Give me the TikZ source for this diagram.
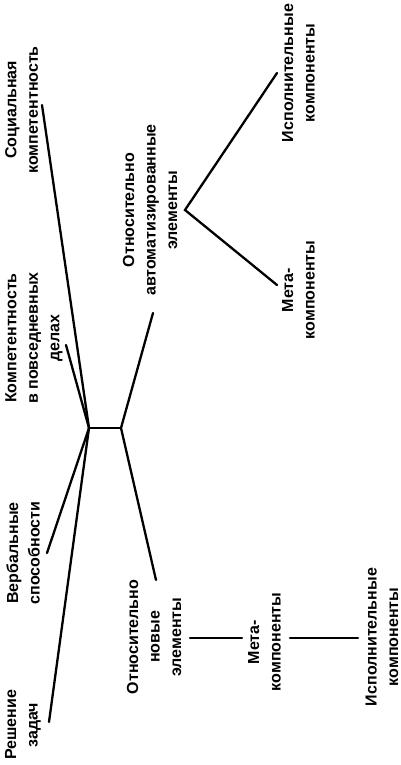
\documentclass[tikz,border=0pt]{standalone}
\usepackage{fontspec}
\setmainfont{Liberation Sans}
\begin{document}
\begin{tikzpicture}[x=1pt,y=-1pt,
  lbl/.style={rotate=90, align=center, font=\fontsize{16}{21.5}\selectfont\bfseries, inner sep=0pt},
  conn/.style={line width=2.3pt, line cap=round}]
\useasboundingbox (0,0) rectangle (400,765);
% labels
\node[lbl] (zadach) at (23,725) {Решение\\задач};
\node[lbl] (verb) at (23,553) {Вербальные\\способности};
\node[lbl] (povs) at (34,338) {Компетентность\\в повседневных\\делах};
\node[lbl] (soc) at (21.5,110) {Социальная\\компетентность};
\node[lbl] (avto) at (150,210) {Относительно\\автоматизированные\\элементы};
\node[lbl] (novye) at (154,637) {Относительно\\новые\\элементы};
\node[lbl] (metaA) at (298.5,290) {Мета-\\компоненты};
\node[lbl] (ispA) at (298.5,73) {Исполнительные\\компоненты};
\node[lbl] (metaN) at (264.5,642) {Мета-\\компоненты};
\node[lbl] (ispN) at (382,637) {Исполнительные\\компоненты};
% connector points
\coordinate (hubL) at (89,428);
\coordinate (hubR) at (121,428);
\coordinate (eSoc) at (42,105);
\coordinate (ePovs) at (66,345);
\coordinate (eVerb) at (47,553);
\coordinate (eZad) at (49,722);
\coordinate (eAvto) at (153,313);
\coordinate (eNov) at (156,580);
\coordinate (vtx) at (185,210);
\coordinate (eMetaA) at (277,285);
\coordinate (eIspA) at (277,73);
\coordinate (n1a) at (190,638);
\coordinate (n1b) at (242,638);
\coordinate (n2a) at (290,638);
\coordinate (n2b) at (358,638);
% connectors
\draw[conn] (hubL) -- (hubR);
\draw[conn] (hubL) -- (eSoc);
\draw[conn] (hubL) -- (ePovs);
\draw[conn] (hubL) -- (eVerb);
\draw[conn] (hubL) -- (eZad);
\draw[conn] (hubR) -- (eAvto);
\draw[conn] (hubR) -- (eNov);
\draw[conn] (eIspA) -- (vtx) -- (eMetaA);
\draw[conn] (n1a) -- (n1b);
\draw[conn] (n2a) -- (n2b);
\end{tikzpicture}
\end{document}
